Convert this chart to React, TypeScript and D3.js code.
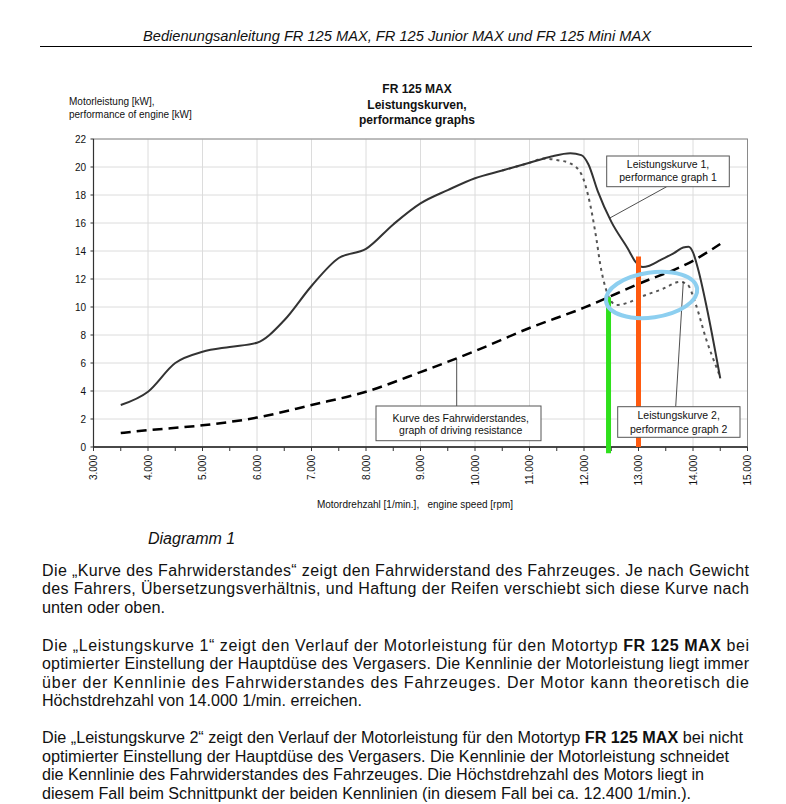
import React from "react";
import * as d3 from "d3";

// ---------- data ----------
const perf1Rpm = [3500, 4000, 4500, 5000, 5500, 6000, 6500, 7000, 7500, 8000, 8500, 9000, 9500, 10000, 10500, 11000, 11400, 11750, 11950, 12080, 12250, 12500, 12800, 12950, 13080, 13200, 13400, 13650, 13820, 13920, 14000, 14100, 14250, 14500];
const perf1Kw = [3.0, 3.95, 6.0, 6.8, 7.15, 7.45, 9.05, 11.5, 13.5, 14.15, 15.9, 17.4, 18.35, 19.2, 19.75, 20.3, 20.75, 20.98, 20.85, 20.2, 18.3, 16.1, 14.2, 13.2, 12.85, 12.95, 13.35, 13.85, 14.25, 14.3, 13.9, 12.6, 10.0, 4.9];

const perf2Rpm = [10500, 11000, 11250, 11500, 11750, 11950, 12080, 12230, 12300, 12400, 12500, 12600, 12800, 13030, 13450, 13760, 13900, 14050, 14250, 14430, 14500];
const perf2Kw = [19.75, 20.3, 20.6, 20.5, 20.25, 19.5, 17.9, 14.8, 13.0, 11.3, 10.4, 10.14, 10.3, 10.7, 11.3, 11.8, 11.6, 10.2, 7.6, 5.7, 5.0];

const resRpm = [3500, 4000, 5000, 6000, 7000, 8000, 9000, 10000, 11000, 12000, 13000, 14000, 14500];
const resKw = [1.0, 1.2, 1.55, 2.1, 3.0, 3.95, 5.35, 6.85, 8.5, 9.95, 11.65, 13.3, 14.5];

const xTickValues = [3000, 4000, 5000, 6000, 7000, 8000, 9000, 10000, 11000, 12000, 13000, 14000, 15000];
const xTickLabels = ["3.000", "4.000", "5.000", "6.000", "7.000", "8.000", "9.000", "10.000", "11.000", "12.000", "13.000", "14.000", "15.000"];
const yTickValues = [0, 2, 4, 6, 8, 10, 12, 14, 16, 18, 20, 22];

const headerText = "Bedienungsanleitung FR 125 MAX, FR 125 Junior MAX und FR 125 Mini MAX";
const titleLines = ["FR 125 MAX", "Leistungskurven,", "performance graphs"];
const yTitleLines = ["Motorleistung [kW],", "performance of engine [kW]"];
const xTitle = "Motordrehzahl [1/min.],   engine speed [rpm]";
const captionText = "Diagramm 1";

const label1 = ["Leistungskurve 1,", "performance graph 1"];
const label2 = ["Leistungskurve 2,", "performance graph 2"];
const label3 = ["Kurve des Fahrwiderstandes,", "graph of driving resistance"];

type Line = { a: string; b?: string; c?: string; just: boolean; w: number };
const para1: Line[] = [
  { a: "Die „Kurve des Fahrwiderstandes“ zeigt den Fahrwiderstand des Fahrzeuges. Je nach Gewicht", just: true, w: 707 },
  { a: "des Fahrers, Übersetzungsverhältnis, und Haftung der Reifen verschiebt sich diese Kurve nach", just: true, w: 707 },
  { a: "unten oder oben.", just: false, w: 123 },
];
const para2: Line[] = [
  { a: "Die „Leistungskurve 1“ zeigt den Verlauf der Motorleistung für den Motortyp ", b: "FR 125 MAX", c: " bei", just: true, w: 707 },
  { a: "optimierter Einstellung der Hauptdüse des Vergasers. Die Kennlinie der Motorleistung liegt immer", just: true, w: 707 },
  { a: "über der Kennlinie des Fahrwiderstandes des Fahrzeuges. Der Motor kann theoretisch die", just: true, w: 707 },
  { a: "Höchstdrehzahl von 14.000 1/min. erreichen.", just: false, w: 320 },
];
const para3: Line[] = [
  { a: "Die „Leistungskurve 2“ zeigt den Verlauf der Motorleistung für den Motortyp ", b: "FR 125 MAX", c: " bei nicht", just: false, w: 701 },
  { a: "optimierter Einstellung der Hauptdüse des Vergasers. Die Kennlinie der Motorleistung schneidet", just: false, w: 687 },
  { a: "die Kennlinie des Fahrwiderstandes des Fahrzeuges. Die Höchstdrehzahl des Motors liegt in", just: false, w: 662 },
  { a: "diesem Fall beim Schnittpunkt der beiden Kennlinien (in diesem Fall bei ca. 12.400 1/min.).", just: false, w: 649 },
];

// hand-drawn highlight markers (rpm, top kW)
const markerRpm = [12450, 13000];
const markerTop = [10.7, 13.6];
const markerBottom = [-0.45, 0];
const markerColors = ["#2fe01c", "#ff5a0f"];

const FONT = "'Liberation Sans', Arial, sans-serif";

export default function App() {
  const x = d3.scaleLinear().domain([3000, 15000]).range([93.5, 747.5]);
  const y = d3.scaleLinear().domain([0, 22]).range([447, 139]);

  const line = d3
    .line<[number, number]>()
    .x((d) => x(d[0]))
    .y((d) => y(d[1]))
    .curve(d3.curveMonotoneX);

  const p1 = line(perf1Rpm.map((r, i) => [r, perf1Kw[i]]) as [number, number][]) || "";
  const p2 = line(perf2Rpm.map((r, i) => [r, perf2Kw[i]]) as [number, number][]) || "";
  const pr = line(resRpm.map((r, i) => [r, resKw[i]]) as [number, number][]) || "";

  const minorTicks = d3.range(3000, 15001, 500);

  const renderPara = (lines: Line[], y0: number) =>
    lines.map((l, i) => (
      <text
        key={i}
        x={42}
        y={y0 + i * 18.4}
        fontSize={16}
        fontFamily={FONT}
        fill="#111"
        textLength={l.w}
        lengthAdjust={l.just ? "spacing" : "spacingAndGlyphs"}
        style={{ whiteSpace: "pre" }}
      >
        {l.a}
        {l.b && <tspan fontWeight="bold">{l.b}</tspan>}
        {l.c && <tspan>{l.c}</tspan>}
      </text>
    ));

  const box = (x1: number, y1: number, x2: number, y2: number, lines: string[], cx: number, b1: number, b2: number) => (
    <g>
      <rect x={x1} y={y1} width={x2 - x1} height={y2 - y1} fill="#fff" stroke="#555" strokeWidth={1} />
      <text x={cx} y={b1} fontSize={10.5} fontFamily={FONT} textAnchor="middle" fill="#111">{lines[0]}</text>
      <text x={cx} y={b2} fontSize={10.5} fontFamily={FONT} textAnchor="middle" fill="#111">{lines[1]}</text>
    </g>
  );

  return (
    <svg
      width={786}
      height={804}
      style={{ position: "absolute", left: 0, top: 0, background: "#fff" }}
    >
      <rect width={786} height={804} fill="#fff" />
      {/* header */}
      <text x={143} y={41} fontSize={15} fontStyle="italic" fontFamily={FONT} fill="#111" textLength={508} lengthAdjust="spacingAndGlyphs">
        {headerText}
      </text>
      <line x1={40} x2={752} y1={46.5} y2={46.5} stroke="#000" strokeWidth={1} />

      {/* chart title */}
      {titleLines.map((t, i) => (
        <text key={i} x={417} y={93 + i * 15.5} fontSize={12} fontWeight="bold" fontFamily={FONT} textAnchor="middle" fill="#111">
          {t}
        </text>
      ))}
      {/* y title */}
      {yTitleLines.map((t, i) => (
        <text key={i} x={69} y={105 + i * 13.3} fontSize={10} fontFamily={FONT} fill="#111">
          {t}
        </text>
      ))}

      {/* grid */}
      {xTickValues.map((v) => (
        <line key={"gx" + v} x1={x(v)} x2={x(v)} y1={y(0)} y2={y(22)} stroke="#dcdcdc" strokeWidth={1} />
      ))}
      {yTickValues.map((v) => (
        <line key={"gy" + v} x1={x(3000)} x2={x(15000)} y1={y(v)} y2={y(v)} stroke="#dcdcdc" strokeWidth={1} />
      ))}
      <rect x={x(3000)} y={y(22)} width={x(15000) - x(3000)} height={y(0) - y(22)} fill="none" stroke="#8a8a8a" strokeWidth={1} />
      <line x1={x(3000)} x2={x(3000)} y1={y(0)} y2={y(22)} stroke="#333" strokeWidth={1.2} />
      <line x1={x(3000)} x2={x(15000)} y1={y(0)} y2={y(0)} stroke="#222" strokeWidth={1.5} />

      {/* ticks */}
      {minorTicks.map((v) => (
        <line key={"tx" + v} x1={x(v)} x2={x(v)} y1={y(0)} y2={y(0) + 4} stroke="#333" strokeWidth={1} />
      ))}
      {yTickValues.map((v) => (
        <g key={"ty" + v}>
          <line x1={x(3000) - 3} x2={x(3000)} y1={y(v)} y2={y(v)} stroke="#333" strokeWidth={1} />
          <text x={86} y={y(v) + 3.5} fontSize={10} fontFamily={FONT} textAnchor="end" fill="#111">
            {v}
          </text>
        </g>
      ))}
      {xTickValues.map((v, i) => (
        <text
          key={"lx" + v}
          transform={`translate(${x(v) + 3.6},${455}) rotate(-90)`}
          fontSize={10}
          fontFamily={FONT}
          textAnchor="end"
          fill="#111"
        >
          {xTickLabels[i]}
        </text>
      ))}
      <text x={415} y={508} fontSize={10} fontFamily={FONT} textAnchor="middle" fill="#111" style={{ whiteSpace: "pre" }}>
        {xTitle}
      </text>

      {/* curves */}
      <path d={p2} fill="none" stroke="#555" strokeWidth={2} strokeDasharray="3,4" />
      <path d={pr} fill="none" stroke="#000" strokeWidth={2.5} strokeDasharray="10,6" />
      <path d={p1} fill="none" stroke="#333" strokeWidth={2} />

      {/* leader lines + boxes */}
      <line x1={666.7} y1={186.7} x2={609.3} y2={218.3} stroke="#222" strokeWidth={0.8} />
      <line x1={456.7} y1={359} x2={456.7} y2={406} stroke="#222" strokeWidth={0.8} />
      <line x1={683.3} y1={281.7} x2={675.7} y2={406.7} stroke="#222" strokeWidth={0.8} />
      {box(606.7, 156, 729.3, 186.7, label1, 668, 168.3, 181)}
      {box(376, 406, 541, 440.7, label3, 460.7, 421.7, 434)}

      {/* hand-drawn highlights */}
      {markerRpm.map((r, i) => (
        <line
          key={"m" + r}
          x1={x(r)}
          x2={x(r)}
          y1={y(markerTop[i])}
          y2={y(markerBottom[i])}
          stroke={markerColors[i]}
          strokeWidth={5}
        />
      ))}
      <ellipse
        cx={x(13240)}
        cy={y(10.86)}
        rx={46}
        ry={22.5}
        transform={`rotate(-8 ${x(13240)} ${y(10.86)})`}
        fill="none"
        stroke="#8dcff0"
        strokeWidth={4}
      />
      {box(617.7, 406.7, 740, 437.3, label2, 678.7, 418.8, 432.7)}

      {/* caption */}
      <text x={148} y={544} fontSize={16} fontStyle="italic" fontFamily={FONT} fill="#111">
        {captionText}
      </text>

      {/* paragraphs */}
      {renderPara(para1, 575.7)}
      {renderPara(para2, 650.7)}
      {renderPara(para3, 743.3)}
    </svg>
  );
}
